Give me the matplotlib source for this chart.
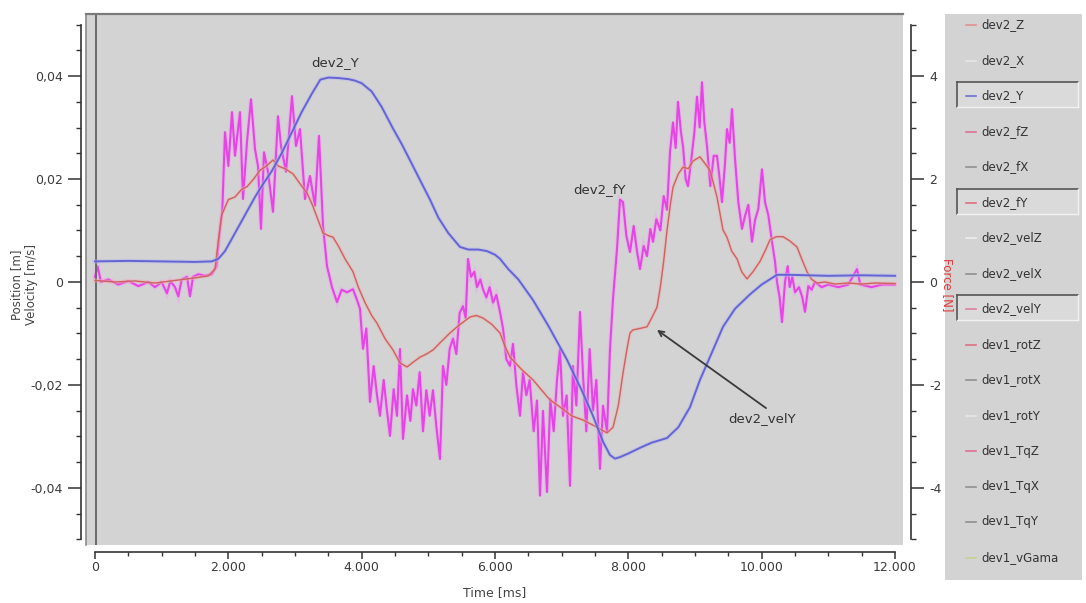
import matplotlib
matplotlib.use("Agg")
import matplotlib.pyplot as plt
from matplotlib.ticker import MultipleLocator, FuncFormatter
from matplotlib.patches import Rectangle

# dev2_Y position [m]
t_pos = [0, 500, 1000, 1500, 1750, 1850, 1950, 2100, 2250, 2400, 2520, 2650, 2800,
         2950, 3100, 3250, 3380, 3500, 3650, 3800, 3900, 4000, 4150, 4300, 4470,
         4600, 4750, 4875, 5025, 5150, 5300, 5475, 5600, 5750, 5880, 6000, 6075,
         6200, 6350, 6570, 6800, 7080, 7300, 7470, 7620, 7725, 7800, 7875, 8000,
         8175, 8350, 8580, 8750, 8925, 9075, 9250, 9420, 9600, 9825, 10000, 10230,
         10400, 10700, 11000, 11500, 12000]
pos_y = [0.0040, 0.0041, 0.0040, 0.0039, 0.0040, 0.0045, 0.0060, 0.0095, 0.0130,
         0.0165, 0.0190, 0.0215, 0.0250, 0.0290, 0.0330, 0.0365, 0.0393, 0.0397,
         0.0396, 0.0394, 0.0391, 0.0386, 0.0370, 0.0340, 0.0298, 0.0268, 0.0230,
         0.0198, 0.0160, 0.0125, 0.0095, 0.0068, 0.0063, 0.0063, 0.0060, 0.0053,
         0.0045, 0.0025, 0.0005, -0.0035, -0.0085, -0.0151, -0.0210, -0.0260,
         -0.0310, -0.0336, -0.0343, -0.0340, -0.0333, -0.0322, -0.0312, -0.0303,
         -0.0282, -0.0243, -0.0190, -0.0138, -0.0087, -0.0052, -0.0024, -0.0005,
         0.0014, 0.0014, 0.0013, 0.0012, 0.0013, 0.0012]

# dev2_velY velocity [m/s]
t_vel = [0, 300, 600, 900, 1200, 1500, 1700, 1800, 1850, 1900, 2000, 2100, 2200,
         2280, 2380, 2475, 2570, 2670, 2750, 2850, 2970, 3080, 3180, 3260, 3330,
         3420, 3500, 3570, 3650, 3750, 3870, 3950, 4050, 4150, 4230, 4350, 4470,
         4575, 4680, 4780, 4875, 4970, 5070, 5200, 5325, 5450, 5625, 5720, 5820,
         5950, 6075, 6150, 6225, 6400, 6570, 6700, 6825, 7000, 7150, 7320, 7500,
         7680, 7770, 7850, 7920, 7980, 8025, 8070, 8180, 8280, 8350, 8430, 8480,
         8530, 8580, 8630, 8670, 8750, 8820, 8900, 8970, 9075, 9150, 9225, 9280,
         9330, 9420, 9480, 9550, 9630, 9700, 9780, 9870, 9975, 10050, 10125, 10220,
         10320, 10420, 10530, 10600, 10680, 10750, 10830, 10950, 11100, 11300,
         11500, 11700, 12000]
vel_y = [0.0003, 0.0000, 0.0002, -0.0002, 0.0003, 0.0008, 0.0012, 0.0025, 0.0080,
         0.0130, 0.0160, 0.0165, 0.0180, 0.0185, 0.0200, 0.0217, 0.0225, 0.0237,
         0.0225, 0.0220, 0.0210, 0.0190, 0.0173, 0.0150, 0.0126, 0.0095, 0.0090,
         0.0087, 0.0070, 0.0045, 0.0020, -0.0010, -0.0040, -0.0065, -0.0080,
         -0.0110, -0.0132, -0.0157, -0.0165, -0.0155, -0.0146, -0.0140, -0.0132,
         -0.0115, -0.0099, -0.0085, -0.0068, -0.0065, -0.0070, -0.0082, -0.0099,
         -0.0125, -0.0146, -0.0170, -0.0190, -0.0210, -0.0229, -0.0245, -0.0260,
         -0.0268, -0.0280, -0.0293, -0.0282, -0.0240, -0.0177, -0.0130, -0.0099,
         -0.0093, -0.0090, -0.0087, -0.0070, -0.0049, -0.0010, 0.0040, 0.0100,
         0.0150, 0.0184, 0.0210, 0.0223, 0.0220, 0.0235, 0.0243, 0.0230, 0.0217,
         0.0190, 0.0165, 0.0101, 0.0087, 0.0060, 0.0045, 0.0020, 0.0006, 0.0020,
         0.0040, 0.0060, 0.0082, 0.0088, 0.0088, 0.0080, 0.0068, 0.0045, 0.0020,
         0.0005, -0.0002, 0.0000, -0.0004, -0.0002, -0.0004, -0.0002, -0.0003]

# dev2_fY force [N]
t_force = [0, 40, 90, 200, 350, 500, 650, 800, 900, 1000, 1080, 1130, 1200, 1250,
           1300, 1380, 1425, 1470, 1550, 1650, 1750, 1820, 1870, 1910, 1950, 2000,
           2055, 2100, 2175, 2220, 2280, 2340, 2400, 2445, 2490, 2535, 2595, 2670,
           2745, 2790, 2865, 2955, 3015, 3075, 3150, 3225, 3300, 3360, 3420, 3480,
           3555, 3630, 3700, 3780, 3870, 3930, 3975, 4020, 4070, 4125, 4180, 4230,
           4275, 4330, 4380, 4425, 4480, 4530, 4575, 4620, 4680, 4730, 4770, 4820,
           4870, 4920, 4970, 5020, 5070, 5120, 5175, 5220, 5270, 5320, 5370, 5420,
           5470, 5520, 5560, 5595, 5640, 5690, 5730, 5780, 5820, 5870, 5920, 5970,
           6020, 6075, 6120, 6170, 6225, 6270, 6320, 6375, 6420, 6470, 6520, 6580,
           6630, 6675, 6720, 6780, 6830, 6880, 6930, 6975, 7020, 7075, 7125, 7170,
           7220, 7275, 7320, 7370, 7420, 7470, 7520, 7575, 7620, 7680, 7725, 7770,
           7830, 7875, 7920, 7970, 8025, 8080, 8130, 8175, 8230, 8280, 8330, 8370,
           8420, 8480, 8530, 8580, 8625, 8670, 8710, 8745, 8790, 8820, 8860, 8895,
           8940, 8990, 9030, 9070, 9105, 9140, 9180, 9230, 9280, 9330, 9370, 9405,
           9450, 9480, 9520, 9555, 9600, 9650, 9705, 9750, 9800, 9855, 9900, 9950,
           10005, 10050, 10100, 10155, 10200, 10230, 10270, 10305, 10350, 10390,
           10420, 10460, 10500, 10560, 10610, 10650, 10700, 10750, 10800, 10900,
           11000, 11150, 11300, 11430, 11480, 11650, 11800, 12000]
force_y = [0.10, 0.30, 0.00, 0.05, -0.05, 0.02, -0.08, 0.00, -0.10, 0.00, -0.22,
           0.02, -0.10, -0.28, 0.05, 0.10, -0.28, 0.10, 0.15, 0.12, 0.15, 0.30,
           0.97, 1.40, 2.91, 2.25, 3.30, 2.45, 3.30, 1.61, 2.72, 3.55, 2.58, 2.25,
           1.03, 2.52, 2.14, 1.36, 3.22, 2.64, 2.14, 3.61, 2.64, 2.97, 1.61, 2.06,
           1.48, 2.84, 1.09, 0.31, -0.10, -0.39, -0.15, -0.20, -0.14, -0.35, -0.52,
           -1.30, -0.90, -2.33, -1.63, -2.20, -2.60, -1.90, -2.50, -2.99, -2.08,
           -2.60, -1.30, -3.05, -2.20, -2.70, -2.08, -2.40, -1.75, -2.90, -2.10,
           -2.60, -2.10, -2.80, -3.44, -1.63, -2.00, -1.30, -1.10, -1.40, -0.60,
           -0.47, -0.70, 0.45, 0.10, 0.20, -0.10, 0.05, -0.14, -0.30, -0.10, -0.40,
           -0.25, -0.58, -0.90, -1.50, -1.63, -1.20, -2.00, -2.60, -1.75, -2.20,
           -1.90, -2.90, -2.30, -4.15, -2.50, -4.08, -2.27, -2.90, -1.90, -1.30,
           -2.60, -2.20, -3.96, -1.63, -2.40, -0.58, -1.80, -2.90, -1.30, -2.50,
           -1.90, -3.63, -2.40, -2.90, -1.30, -0.33, 0.64, 1.60, 1.55, 0.90, 0.58,
           1.09, 0.60, 0.25, 0.70, 0.50, 1.03, 0.78, 1.22, 1.00, 1.67, 1.40, 2.52,
           3.10, 2.60, 3.50, 2.90, 2.64, 2.00, 1.86, 2.33, 2.90, 3.60, 3.00, 3.88,
           3.10, 2.64, 1.86, 2.45, 2.45, 2.00, 1.55, 2.30, 2.97, 2.70, 3.36, 2.40,
           1.55, 1.03, 1.28, 1.50, 0.78, 1.20, 1.42, 2.19, 1.55, 1.30, 0.78, 0.40,
           0.00, -0.30, -0.78, 0.00, 0.31, -0.10, 0.10, -0.20, -0.10, -0.30, -0.58,
           -0.08, -0.15, 0.00, -0.10, -0.05, -0.10, -0.05, 0.25, -0.05, -0.10,
           -0.05, -0.05]

legend_names = ["dev2_Z", "dev2_X", "dev2_Y", "dev2_fZ", "dev2_fX", "dev2_fY",
                "dev2_velZ", "dev2_velX", "dev2_velY", "dev1_rotZ", "dev1_rotX",
                "dev1_rotY", "dev1_TqZ", "dev1_TqX", "dev1_TqY", "dev1_vGama"]
legend_colors = ["#e09090", "#e6e6e6", "#7070d0", "#e07090", "#909090", "#e07080",
                 "#eeeeee", "#909090", "#e080a0", "#e07080", "#909090", "#e6e6e6",
                 "#e07090", "#909090", "#909090", "#c8d090"]
selected = ["dev2_Y", "dev2_fY", "dev2_velY"]

GRAY = "#d3d3d3"
INK = "#333333"
W, H = 1086, 603


def box(x0, y0, x1, y1):
    # pixel box -> figure fraction
    return [x0 / W, 1 - y1 / H, (x1 - x0) / W, (y1 - y0) / H]


fig = plt.figure(figsize=(W / 100, H / 100), dpi=100)
ax = fig.add_axes(box(86, 14, 903, 545))
ax2 = ax.twinx()

# force underneath, position / velocity on top
ax.set_zorder(2)
ax.patch.set_visible(False)
ax2.set_zorder(1)
ax2.patch.set_visible(True)
ax2.patch.set_facecolor(GRAY)

ax2.plot(t_force, force_y, color="#f0a0f0", lw=3.2, alpha=0.45, solid_joinstyle="miter")
ax2.plot(t_force, force_y, color="#e645e6", lw=1.5)
ax.plot(t_vel, vel_y, color="#f0b0b0", lw=2.6, alpha=0.5)
ax.plot(t_vel, vel_y, color="#cc6262", lw=1.0)
ax.plot(t_pos, pos_y, color="#b8b8f0", lw=3.0, alpha=0.5)
ax.plot(t_pos, pos_y, color="#6464d2", lw=1.4)

ax.set_xlim(-135, 12120)
ax.set_ylim(-0.05107, 0.05204)
ax2.set_ylim(-5.107, 5.204)

# spines: axes drawn detached from the gray plot area
for s in ["top", "right"]:
    ax.spines[s].set_visible(False)
ax.spines["left"].set_position(("outward", 3.6))
ax.spines["left"].set_bounds(-0.05, 0.05)
ax.spines["bottom"].set_position(("outward", 5))
ax.spines["bottom"].set_bounds(0, 12000)
for s in ["left", "bottom"]:
    ax.spines[s].set_color(INK)
    ax.spines[s].set_linewidth(1.2)

ax2.spines["bottom"].set_visible(False)
ax2.spines["top"].set_color("#7a7a7a")
ax2.spines["top"].set_linewidth(1.6)
ax2.spines["left"].set_color("#8a8a8a")
ax2.spines["left"].set_linewidth(1.2)
ax2.spines["right"].set_position(("outward", 5.8))
ax2.spines["right"].set_bounds(-5, 5)
ax2.spines["right"].set_color(INK)
ax2.spines["right"].set_linewidth(1.2)
# inner frame line on the left edge of the plot area
ax2.plot([0.012, 0.012], [0, 1], transform=ax2.transAxes, color="#6a6a6a", lw=1.4)

# ticks
ax.xaxis.set_major_locator(MultipleLocator(2000))
ax.xaxis.set_minor_locator(MultipleLocator(500))
ax.yaxis.set_major_locator(MultipleLocator(0.02))
ax.yaxis.set_minor_locator(MultipleLocator(0.005))
ax2.yaxis.set_major_locator(MultipleLocator(2))
ax2.yaxis.set_minor_locator(MultipleLocator(0.5))

ax.xaxis.set_major_formatter(FuncFormatter(lambda v, p: f"{int(round(v)):,}".replace(",", ".")))
ax.yaxis.set_major_formatter(FuncFormatter(
    lambda v, p: "0" if abs(v) < 1e-9 else f"{v:.2f}".replace(".", ",")))
ax2.yaxis.set_major_formatter(FuncFormatter(lambda v, p: f"{int(round(v))}"))

ax.tick_params(axis="y", which="major", direction="out", length=9.4, width=1.1,
               color=INK, labelcolor="#3a3a3a", labelsize=9, pad=3.5)
ax.tick_params(axis="y", which="minor", direction="out", length=3.6, width=1.0, color=INK)
ax.tick_params(axis="x", which="major", direction="out", length=5, width=1.1,
               color=INK, labelcolor="#3a3a3a", labelsize=9, pad=1.5)
ax.tick_params(axis="x", which="minor", direction="out", length=3, width=1.0, color=INK)
ax2.tick_params(axis="y", which="major", direction="out", length=9.4, width=1.1,
                color=INK, labelcolor="#3a3a3a", labelsize=9, pad=3.5)
ax2.tick_params(axis="y", which="minor", direction="out", length=3.6, width=1.0, color=INK)

# axis titles
ax.set_ylabel("Position [m]\nVelocity [m/s]", fontsize=8.5, color="#444444",
              multialignment="center", linespacing=1.2)
ax.yaxis.set_label_coords(-0.0588, 0.49)
ax2.set_ylabel("Force [N]", fontsize=8.5, color="#e03a3a", rotation=270)
ax2.yaxis.set_label_coords(1.0624, 0.49)
ax.set_xlabel("Time [ms]", fontsize=9, color="#444444")
ax.xaxis.set_label_coords(0.5006, -0.0772)

# curve labels
ax.text(3600, 0.0427, "dev2_Y", ha="center", va="center", fontsize=9.5, color=INK)
ax2.text(7575, 1.79, "dev2_fY", ha="center", va="center", fontsize=9.5, color=INK)
ax.annotate("dev2_velY", xy=(8430, -0.0093), xytext=(10005, -0.0266),
            ha="center", va="center", fontsize=9.5, color=INK,
            arrowprops=dict(arrowstyle="->", color="#3a3a3a", lw=1.3,
                            shrinkA=2, shrinkB=0, relpos=(0.65, 1.0)))

# channel list on the right
lx = fig.add_axes(box(945, 14, 1082, 580))
lx.set_xlim(945, 1082)
lx.set_ylim(580, 14)
lx.set_facecolor(GRAY)
lx.set_xticks([])
lx.set_yticks([])
for s in lx.spines.values():
    s.set_visible(False)

for i, (name, col) in enumerate(zip(legend_names, legend_colors)):
    y = 25 + 35.5 * i
    if name in selected:
        lx.add_patch(Rectangle((957, y - 14), 121, 25, facecolor="#dadada",
                               edgecolor="none"))
        lx.plot([957, 1078], [y - 14, y - 14], color="#555555", lw=1.2)
        lx.plot([957, 957], [y - 14, y + 11], color="#555555", lw=1.2)
        lx.plot([957, 1078], [y + 11, y + 11], color="#f2f2f2", lw=1.0)
        lx.plot([1078, 1078], [y - 14, y + 11], color="#f2f2f2", lw=1.0)
    lx.plot([966, 976], [y, y], color=col, lw=1.2)
    lx.text(981, y, name, fontsize=8.5, va="center", ha="left", color=INK)

fig.savefig("out.png", dpi=100)
